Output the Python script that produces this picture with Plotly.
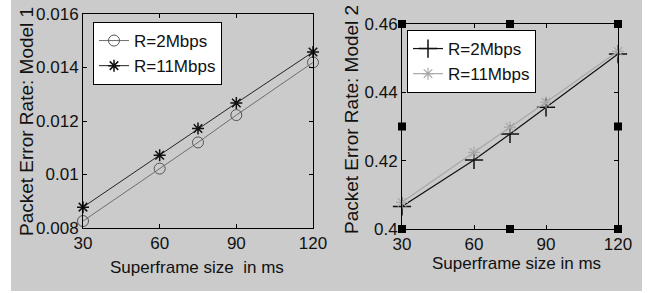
import plotly.graph_objects as go

# ---- data ----
superframe_ms = [30, 60, 75, 90, 120]
m1_r2 = [0.00826, 0.01022, 0.01120, 0.01222, 0.01419]
m1_r11 = [0.00878, 0.01072, 0.01172, 0.01267, 0.01458]
m2_r2 = [0.4066, 0.4202, 0.4278, 0.4356, 0.4512]
m2_r11 = [0.4078, 0.4224, 0.4298, 0.4371, 0.4520]

x_ticks = [30, 60, 90, 120]
x_tick_text = ["30", "60", "90", "120"]
y1_ticks = [0.008, 0.010, 0.012, 0.014, 0.016]
y1_tick_text = ["0.008", "0.01", "0.012", "0.014", "0.016"]
y2_ticks = [0.40, 0.42, 0.44, 0.46]
y2_tick_text = ["0.4", "0.42", "0.44", "0.46"]

# selection handles visible on the right panel (corners and edge midpoints)
handle_x = [30, 75, 120, 30, 120, 30, 75, 120]
handle_y = [0.40, 0.40, 0.40, 0.43, 0.43, 0.46, 0.46, 0.46]

W, H = 655, 293
FONT = "Liberation Sans, Arial, sans-serif"


def px(x):
    return x / W


def py(y):
    return 1 - y / H


fig = go.Figure()

# Left panel: Model 1
fig.add_trace(go.Scatter(
    x=superframe_ms, y=m1_r2, name="R=2Mbps", mode="lines+markers",
    line=dict(color="#6e6e6e", width=1),
    marker=dict(symbol="circle-open", size=11, color="#555555", line=dict(width=1)),
    xaxis="x", yaxis="y", legend="legend", cliponaxis=False))
fig.add_trace(go.Scatter(
    x=superframe_ms, y=m1_r11, name="R=11Mbps", mode="lines+markers",
    line=dict(color="#222222", width=1),
    marker=dict(symbol="asterisk-open", size=10, color="#111111", line=dict(width=1.5)),
    xaxis="x", yaxis="y", legend="legend", cliponaxis=False))

# Right panel: Model 2
fig.add_trace(go.Scatter(
    x=superframe_ms, y=m2_r2, name="R=2Mbps", mode="lines+markers",
    line=dict(color="#111111", width=1.2),
    marker=dict(symbol="cross-thin-open", size=13, color="#111111", line=dict(width=1.5)),
    xaxis="x2", yaxis="y2", legend="legend2", cliponaxis=False))
fig.add_trace(go.Scatter(
    x=superframe_ms, y=m2_r11, name="R=11Mbps", mode="lines+markers",
    line=dict(color="#a8a8a8", width=1.2),
    marker=dict(symbol="asterisk-open", size=10, color="#a8a8a8", line=dict(width=1.2)),
    xaxis="x2", yaxis="y2", legend="legend2", cliponaxis=False))
fig.add_trace(go.Scatter(
    x=handle_x, y=handle_y, mode="markers", showlegend=False,
    marker=dict(symbol="square", size=8, color="black"),
    xaxis="x2", yaxis="y2", cliponaxis=False, hoverinfo="skip"))

axis_common = dict(
    showline=True, linecolor="black", linewidth=1, mirror="ticks",
    ticks="inside", ticklen=4, tickcolor="black", showgrid=False, zeroline=False,
    automargin=False,
    tickfont=dict(family=FONT, size=17, color="#111111"),
)


def label(text, x, y, size=17, angle=0):
    return dict(text=text, xref="paper", yref="paper", x=px(x), y=py(y),
                xanchor="center", yanchor="middle", showarrow=False,
                textangle=angle, font=dict(family=FONT, size=size, color="#111111"))


fig.update_layout(
    width=W, height=H, autosize=False,
    margin=dict(l=0, r=0, t=0, b=0, pad=0, autoexpand=False),
    paper_bgcolor="white", plot_bgcolor="white",
    font=dict(family=FONT, color="#111111"),
    xaxis=dict(domain=[px(83), px(313)], range=[30, 120], anchor="y",
               tickvals=x_ticks, ticktext=x_tick_text, **axis_common),
    yaxis=dict(domain=[py(228), py(14)], range=[0.008, 0.016], anchor="x",
               tickvals=y1_ticks, ticktext=y1_tick_text, **axis_common),
    xaxis2=dict(domain=[px(402), px(618)], range=[30, 120], anchor="y2",
                tickvals=x_ticks, ticktext=x_tick_text, **axis_common),
    yaxis2=dict(domain=[py(229), py(24)], range=[0.40, 0.46], anchor="x2",
                tickvals=y2_ticks, ticktext=y2_tick_text, **axis_common),
    legend=dict(x=px(93), y=py(22), xanchor="left", yanchor="top",
                bgcolor="white", bordercolor="black", borderwidth=1,
                font=dict(family=FONT, size=17, color="#111111"),
                itemwidth=30, tracegroupgap=0),
    legend2=dict(x=px(407), y=py(30), xanchor="left", yanchor="top",
                 bgcolor="white", bordercolor="black", borderwidth=1,
                 font=dict(family=FONT, size=17, color="#111111"),
                 itemwidth=30, tracegroupgap=0),
    shapes=[dict(type="rect", xref="paper", yref="paper", layer="below",
                 x0=px(11), x1=px(642), y0=py(291), y1=1,
                 fillcolor="#cbcbcb", line=dict(width=0))],
    annotations=[
        label("Superframe size  in ms", 197, 267),
        label("Superframe size in ms", 516, 263),
        label("Packet Error Rate: Model 1", 26, 122, size=19, angle=-90),
        label("Packet Error Rate: Model 2", 351, 120, size=19, angle=-90),
    ],
)

fig.write_html(
    "out.html",
    config={"displayModeBar": False},
    post_script="document.body.style.margin='0';document.body.style.overflow='hidden';",
)
